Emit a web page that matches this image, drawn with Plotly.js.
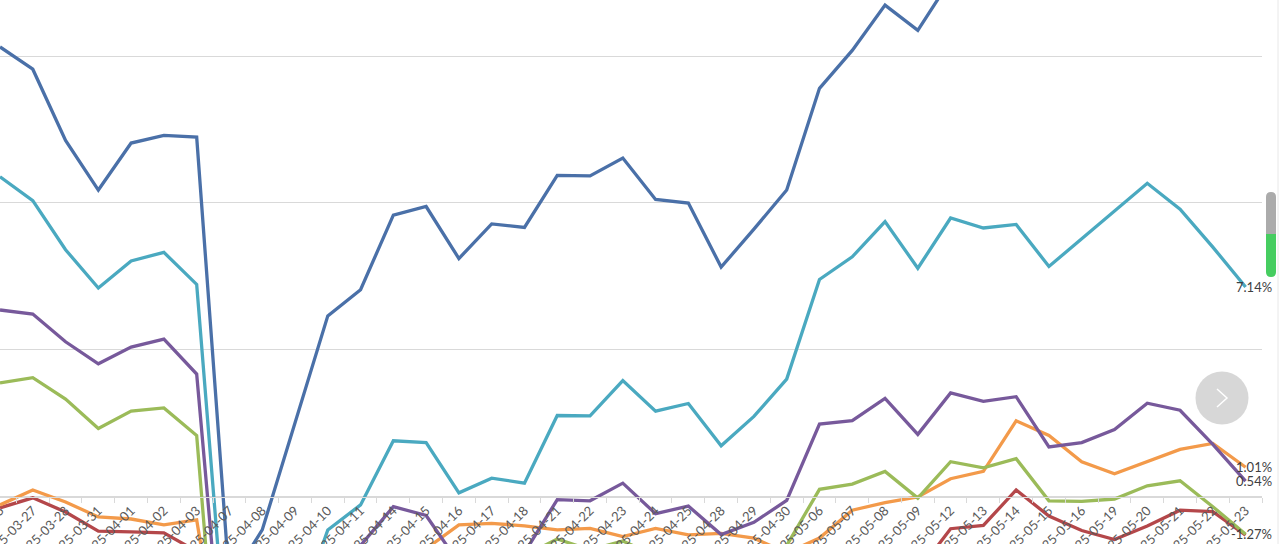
<!DOCTYPE html>
<html>
<head>
<meta charset="utf-8">
<script src="https://cdn.plot.ly/plotly-3.0.1.min.js"></script>
<style>
html,body{margin:0;padding:0;background:#ffffff;overflow:hidden}
#chart{width:1280px;height:544px}
</style>
</head>
<body>
<div id="chart"></div>
<script>
// ---- data (daily cumulative returns, %) ----
const dates = ['2025-03-26','2025-03-27','2025-03-28','2025-03-31','2025-04-01','2025-04-02','2025-04-03',
  '2025-04-07','2025-04-08','2025-04-09','2025-04-10','2025-04-11','2025-04-14','2025-04-15','2025-04-16',
  '2025-04-17','2025-04-18','2025-04-21','2025-04-22','2025-04-23','2025-04-24','2025-04-25','2025-04-28',
  '2025-04-29','2025-04-30','2025-05-06','2025-05-07','2025-05-08','2025-05-09','2025-05-12','2025-05-13',
  '2025-05-14','2025-05-15','2025-05-16','2025-05-19','2025-05-20','2025-05-21','2025-05-22','2025-05-23'];

const blueSeries = [15.31,14.55,12.13,10.44,12.04,12.30,12.24,-2.9,-1.12,2.5,6.16,7.05,9.59,9.88,8.11,
  9.29,9.17,10.94,10.92,11.53,10.12,10.00,7.82,9.11,10.44,13.90,15.19,16.73,15.87,17.6,18.3,18.9,18.1,
  18.6,19.2,20.1,19.5,18.8,18.2];

const tealSeries = [10.89,10.08,8.41,7.11,8.03,8.32,7.23,-6.6,-6.0,-4.3,-1.12,-0.27,1.91,1.85,0.14,
  0.64,0.47,2.77,2.76,3.96,2.92,3.18,1.74,2.74,4.01,7.40,8.17,9.37,7.78,9.49,9.15,9.27,7.84,
  8.78,9.73,10.67,9.79,8.50,7.14];

const purpleSeries = [6.36,6.22,5.28,4.53,5.10,5.37,4.18,-8.4,-7.5,-6.0,-4.0,-1.65,-0.33,-0.63,-2.25,
  -2.6,-1.9,-0.09,-0.13,0.47,-0.57,-0.31,-1.28,-0.86,-0.12,2.48,2.60,3.35,2.13,3.54,3.25,3.41,1.70,
  1.85,2.29,3.19,2.95,1.79,0.54];

const greenSeries = [3.88,4.06,3.33,2.33,2.92,3.03,2.09,-11.5,-10.0,-8.0,-6.0,-4.5,-3.5,-3.0,-2.8,
  -2.4,-2.0,-1.43,-1.8,-1.5,-2.0,-2.2,-2.6,-2.5,-1.65,0.26,0.44,0.87,-0.04,1.20,0.99,1.30,-0.13,
  -0.15,-0.07,0.38,0.55,-0.33,-1.27];

const orangeSeries = [-0.27,0.24,-0.17,-0.68,-0.75,-0.95,-0.78,-7.5,-6.0,-4.5,-3.5,-2.8,-2.3,-1.76,-0.95,
  -0.90,-0.98,-1.12,-1.07,-1.35,-1.07,-1.29,-1.24,-1.40,-1.9,-1.40,-0.45,-0.19,0.00,0.62,0.87,2.59,2.09,
  1.20,0.79,1.20,1.62,1.82,1.01];

const redSeries = [-0.37,-0.03,-0.51,-1.16,-1.19,-1.22,-1.85,-3.0,-4.5,-4.0,-3.6,-3.2,-3.4,-3.0,-3.3,
  -3.1,-2.9,-2.7,-2.8,-2.6,-2.9,-2.8,-3.1,-3.0,-3.2,-2.9,-2.7,-2.6,-2.55,-1.08,-0.97,0.24,-0.65,
  -1.14,-1.45,-0.99,-0.45,-0.50,-1.30];

// ---- drawing ----
const seriesList = [
  {y: redSeries,    color: '#b4474a', label: false},
  {y: orangeSeries, color: '#f39a4a', label: true},
  {y: greenSeries,  color: '#9bbb59', label: true},
  {y: purpleSeries, color: '#77599b', label: true},
  {y: tealSeries,   color: '#4aa9c0', label: true},
  {y: blueSeries,   color: '#4a70a8', label: false}
];

const traces = seriesList.map(s => ({
  type: 'scatter', mode: 'lines', x: dates, y: s.y,
  line: {color: s.color, width: 3.3},
  hoverinfo: 'skip'
}));

const last = dates.length - 1;
const annotations = seriesList.filter(s => s.label).map(s => ({
  x: dates[last], y: s.y[last], xref: 'x', yref: 'y',
  text: s.y[last].toFixed(2) + '%',
  showarrow: false, xanchor: 'right', yanchor: 'middle', xshift: 28,
  font: {family: 'Lato, sans-serif', size: 13, color: '#3f3f3f'}
}));

// screen decorations (pixel -> paper)
const PW = 1262, PH = 544;
const px = X => X / PW;
const py = Y => (PH - Y) / PH;
const shapes = [
  {type: 'line', xref: 'paper', yref: 'paper', x0: px(1278), x1: px(1278), y0: 0, y1: 1,
   line: {color: '#e8e8e8', width: 1}},
  {type: 'path', xref: 'paper', yref: 'paper',
   path: `M ${px(1266)},${py(236)} L ${px(1266)},${py(197)} Q ${px(1266)},${py(192)} ${px(1271)},${py(192)} Q ${px(1276)},${py(192)} ${px(1276)},${py(197)} L ${px(1276)},${py(236)} Z`,
   fillcolor: '#ababab', line: {width: 0}},
  {type: 'path', xref: 'paper', yref: 'paper',
   path: `M ${px(1266)},${py(234)} L ${px(1276)},${py(234)} L ${px(1276)},${py(272)} Q ${px(1276)},${py(277)} ${px(1271)},${py(277)} Q ${px(1266)},${py(277)} ${px(1266)},${py(272)} Z`,
   fillcolor: '#46cd60', line: {width: 0}},
  {type: 'circle', xref: 'paper', yref: 'paper',
   x0: px(1195.5), x1: px(1248.5), y0: py(424.5), y1: py(371.5),
   fillcolor: '#d7d7d7', line: {width: 0}},
  {type: 'path', xref: 'paper', yref: 'paper',
   path: `M ${px(1217)},${py(389)} L ${px(1227)},${py(398)} L ${px(1217)},${py(407)}`,
   line: {color: '#ffffff', width: 1.5}}
];

const layout = {
  width: 1280, height: 544,
  margin: {l: 0, r: 18, t: 0, b: 0, pad: 0},
  paper_bgcolor: '#ffffff', plot_bgcolor: '#ffffff',
  showlegend: false,
  xaxis: {
    type: 'category', range: [0, 38.5],
    anchor: 'free', position: 47 / 544,
    showline: true, linecolor: '#d9d9d9', linewidth: 1,
    ticks: 'outside', ticklen: 5, tickcolor: '#d9d9d9', tickson: 'boundaries',
    tickangle: -45, tickfont: {family: 'Lato, sans-serif', size: 13, color: '#595959'},
    showgrid: false, zeroline: false, automargin: false, fixedrange: true
  },
  yaxis: {
    range: [-1.6, 16.905], tick0: 0, dtick: 5,
    showgrid: true, gridcolor: '#d9d9d9', gridwidth: 1,
    zeroline: false, showticklabels: false, ticks: '', showline: false,
    automargin: false, fixedrange: true
  },
  annotations: annotations,
  shapes: shapes
};

Plotly.newPlot('chart', traces, layout, {staticPlot: true, displayModeBar: false});
</script>
</body>
</html>
